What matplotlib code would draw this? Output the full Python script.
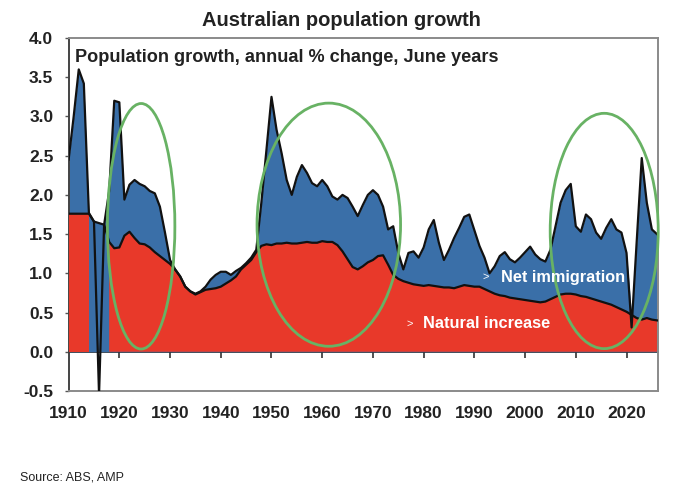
import numpy as np
import matplotlib
matplotlib.use('Agg')
import matplotlib.pyplot as plt
from matplotlib.patches import Ellipse

plt.rcParams['font.family'] = ['Liberation Sans', 'DejaVu Sans']

years = np.arange(1910, 2027)

# total population growth, % (black top line)
total = [
    2.45, 3.00, 3.60, 3.42, 1.77, 1.66, -0.55, 1.62, 2.05, 3.20,   # 1910-1919
    3.18, 1.94, 2.13, 2.19, 2.14, 2.11, 2.05, 2.02, 1.85, 1.52,    # 1920-1929
    1.17, 1.05, 0.96, 0.83, 0.77, 0.74, 0.77, 0.83, 0.92, 0.98,    # 1930-1939
    1.02, 1.02, 0.98, 1.03, 1.07, 1.13, 1.20, 1.30, 1.90, 2.57,    # 1940-1949
    3.25, 2.83, 2.53, 2.19, 2.00, 2.23, 2.38, 2.28, 2.15, 2.11,    # 1950-1959
    2.19, 2.11, 1.98, 1.94, 2.00, 1.96, 1.85, 1.73, 1.87, 2.00,    # 1960-1969
    2.06, 2.00, 1.85, 1.56, 1.60, 1.26, 1.05, 1.26, 1.28, 1.20,    # 1970-1979
    1.33, 1.56, 1.68, 1.39, 1.17, 1.30, 1.45, 1.58, 1.72, 1.75,    # 1980-1989
    1.55, 1.35, 1.20, 1.00, 1.09, 1.22, 1.27, 1.18, 1.14, 1.20,    # 1990-1999
    1.27, 1.34, 1.24, 1.18, 1.15, 1.30, 1.60, 1.90, 2.06, 2.14,    # 2000-2009
    1.60, 1.53, 1.75, 1.69, 1.52, 1.44, 1.58, 1.69, 1.56, 1.52,    # 2010-2019
    1.26, 0.31, 1.40, 2.47, 1.90, 1.56, 1.50,                      # 2020-2026
]

# natural increase, % (top of red area)
natural = [
    1.76, 1.76, 1.76, 1.76, 1.76, 1.66, 1.64, 1.62, 1.40, 1.32,
    1.33, 1.48, 1.53, 1.45, 1.38, 1.37, 1.33, 1.27, 1.22, 1.17,
    1.12, 1.05, 0.96, 0.83, 0.77, 0.73, 0.76, 0.79, 0.80, 0.81,
    0.83, 0.87, 0.91, 0.96, 1.05, 1.11, 1.17, 1.27, 1.35, 1.37,
    1.36, 1.38, 1.38, 1.39, 1.38, 1.38, 1.39, 1.40, 1.39, 1.39,
    1.41, 1.40, 1.40, 1.36, 1.28, 1.18, 1.08, 1.05, 1.09, 1.14,
    1.17, 1.22, 1.23, 1.11, 0.98, 0.93, 0.90, 0.88, 0.86, 0.85,
    0.84, 0.85, 0.84, 0.83, 0.82, 0.82, 0.81, 0.83, 0.85, 0.84,
    0.83, 0.83, 0.80, 0.77, 0.74, 0.72, 0.71, 0.69, 0.68, 0.67,
    0.66, 0.65, 0.64, 0.63, 0.64, 0.67, 0.70, 0.73, 0.74, 0.74,
    0.73, 0.71, 0.70, 0.68, 0.66, 0.64, 0.62, 0.60, 0.57, 0.54,
    0.51, 0.47, 0.43, 0.41, 0.43, 0.41, 0.40,
]

# war years where the chart shows no red area
no_red_years = [1915, 1916, 1917]

# highlighted periods: (centre year, centre value, width in years, height)
circles = [(1924.3, 1.60, 13.3, 3.13), (1961.3, 1.62, 28.3, 3.10), (2015.6, 1.54, 21.3, 3.00)]

x_ticks = list(range(1910, 2030, 10))
y_ticks = np.arange(-0.5, 4.01, 0.5)

total = np.array(total)
natural = np.array(natural)
red_on = ~np.isin(years, no_red_years)

blue = '#3a6fa8'
red = '#e8392a'
green = '#68b264'

fig = plt.figure(figsize=(6.8, 4.88), dpi=100)
ax = fig.add_axes([0.1009, 0.1988, 0.8667, 0.7233])

ax.fill_between(years, 0, np.fmax(total, natural), color=blue, lw=0, zorder=2)
ax.fill_between(years, 0, natural, where=red_on, color=red, lw=0, zorder=3)
ax.plot(years, natural, color='#111111', lw=1.6, zorder=4)
ax.plot(years, total, color='#111111', lw=1.6, zorder=5)

for cx, cy, w, h in circles:
    ax.add_patch(Ellipse((cx, cy), w, h, fill=False, edgecolor=green, lw=2, zorder=6, clip_on=False))

ax.set_xlim(1910, 2026.2)
ax.set_ylim(-0.5, 4.0)

ax.set_yticks(y_ticks)
ax.set_yticklabels([f'{v:.1f}' for v in y_ticks])
ax.set_xticks(x_ticks)
ax.set_xticklabels([str(t) for t in x_ticks])
ax.tick_params(axis='x', length=0, pad=11, labelsize=12.5)
ax.tick_params(axis='y', length=3, width=1, direction='out', pad=8, labelsize=12.5, color='#555555')
for lab in ax.get_xticklabels() + ax.get_yticklabels():
    lab.set_fontweight('bold')
    lab.set_color('#222222')

for sp in ax.spines.values():
    sp.set_color('#8a8a8a')
    sp.set_linewidth(1.4)
ax.spines['left'].set_color('#444444')

# horizontal axis line with tick marks at zero
zero_ax = ax.secondary_xaxis(0.5 / 4.5)
zero_ax.set_xticks(x_ticks[1:])
zero_ax.set_xticklabels([])
zero_ax.tick_params(axis='x', length=4, width=1.2, direction='out', color='#333333')
zero_ax.spines['bottom'].set_color('#222222')
zero_ax.spines['bottom'].set_linewidth(1.2)

ax.text(0.011, 0.946, 'Population growth, annual % change, June years', transform=ax.transAxes,
        fontsize=13.1, fontweight='bold', color='#222222', va='center', ha='left', zorder=7)

ax.text(1991.7, 0.95, '>', color='white', fontsize=8, va='center', zorder=7)
ax.text(1995.2, 0.95, 'Net immigration', color='white', fontsize=11.7, fontweight='bold', va='center', zorder=7)
ax.text(1976.7, 0.36, '>', color='white', fontsize=8, va='center', zorder=7)
ax.text(1979.8, 0.36, 'Natural increase', color='white', fontsize=11.8, fontweight='bold', va='center', zorder=7)

fig.text(0.5015, 0.958, 'Australian population growth', ha='center', va='center',
         fontsize=14.5, fontweight='bold', color='#222222')
fig.text(0.03, 0.022, 'Source: ABS, AMP', ha='left', va='center', fontsize=9, color='#222222')

fig.savefig('out.png', dpi=100)
